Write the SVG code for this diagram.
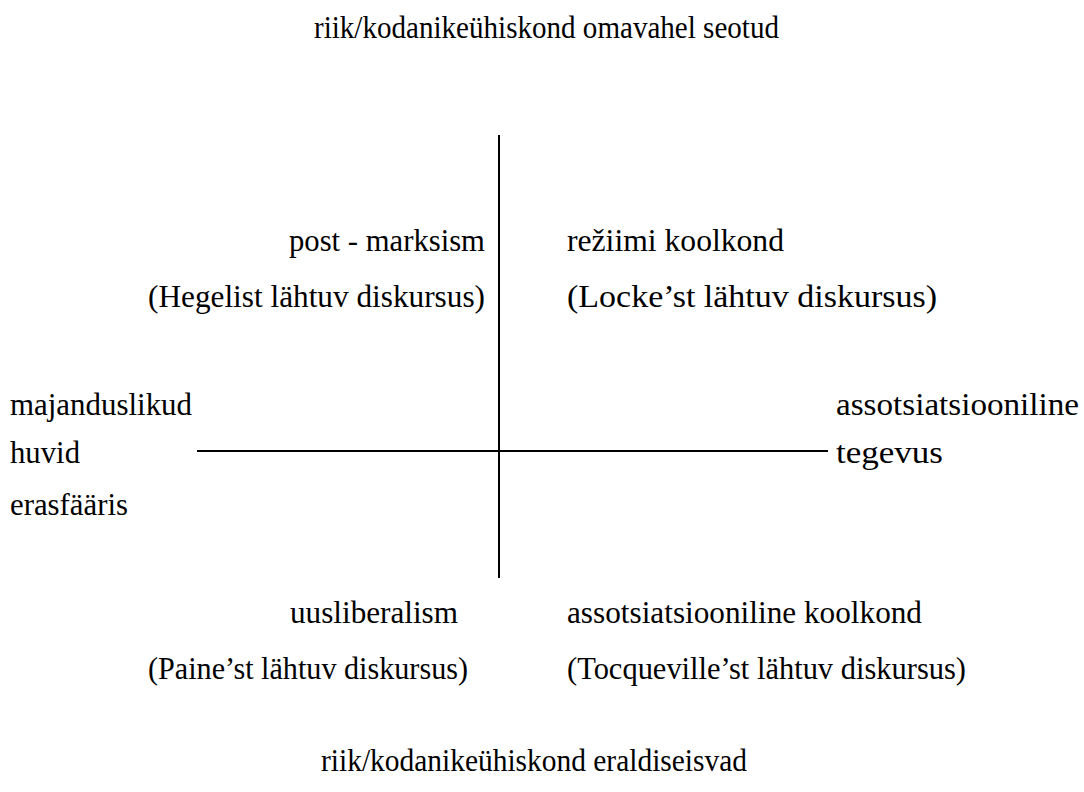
<svg xmlns="http://www.w3.org/2000/svg" width="1084" height="792" viewBox="0 0 1084 792">
<style>
text{font-family:"Liberation Serif","Times New Roman",serif;font-size:31px;fill:#000}
.ax{stroke:#000;stroke-width:2;fill:none}
</style>
<rect width="1084" height="792" fill="#fff"/>
<g id="connectors">
<line class="ax" x1="499" y1="135" x2="499" y2="578"/>
<line class="ax" x1="197" y1="451" x2="828" y2="451"/>
</g>
<g id="top"><text x="314" y="38" textLength="465" lengthAdjust="spacingAndGlyphs">riik/kodanikeühiskond omavahel seotud</text></g>
<g id="q1">
<text x="289" y="251" textLength="196" lengthAdjust="spacingAndGlyphs">post - marksism</text>
<text x="148" y="307" textLength="337" lengthAdjust="spacingAndGlyphs">(Hegelist lähtuv diskursus)</text>
</g>
<g id="q2">
<text x="567" y="251" textLength="217" lengthAdjust="spacingAndGlyphs">režiimi koolkond</text>
<text x="567" y="307" textLength="370" lengthAdjust="spacingAndGlyphs">(Locke’st lähtuv diskursus)</text>
</g>
<g id="left">
<text x="10" y="415" textLength="182" lengthAdjust="spacingAndGlyphs">majanduslikud</text>
<text x="10" y="463" textLength="70" lengthAdjust="spacingAndGlyphs">huvid</text>
<text x="10" y="515" textLength="118" lengthAdjust="spacingAndGlyphs">erasfääris</text>
</g>
<g id="right">
<text x="836" y="415" textLength="243" lengthAdjust="spacingAndGlyphs">assotsiatsiooniline</text>
<text x="836" y="463" textLength="107" lengthAdjust="spacingAndGlyphs">tegevus</text>
</g>
<g id="q3">
<text x="290" y="623" textLength="168" lengthAdjust="spacingAndGlyphs">uusliberalism</text>
<text x="148" y="679" textLength="320" lengthAdjust="spacingAndGlyphs">(Paine’st lähtuv diskursus)</text>
</g>
<g id="q4">
<text x="567" y="623" textLength="355" lengthAdjust="spacingAndGlyphs">assotsiatsiooniline koolkond</text>
<text x="567" y="679" textLength="399" lengthAdjust="spacingAndGlyphs">(Tocqueville’st lähtuv diskursus)</text>
</g>
<g id="bottom"><text x="321" y="771" textLength="426" lengthAdjust="spacingAndGlyphs">riik/kodanikeühiskond eraldiseisvad</text></g>
</svg>
